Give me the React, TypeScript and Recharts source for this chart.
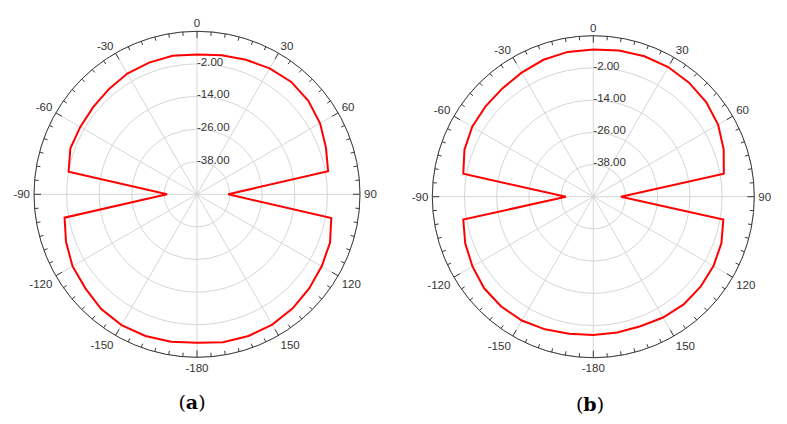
import React from 'react';
import { RadarChart, Radar, PolarGrid, PolarAngleAxis, PolarRadiusAxis } from 'recharts';

// Compass angles (0 = top, clockwise), every 10 degrees
const angles = [0, 10, 20, 30, 40, 50, 60, 70, 80, 90, 100, 110, 120, 130, 140, 150, 160, 170, 180,
  190, 200, 210, 220, 230, 240, 250, 260, 270, 280, 290, 300, 310, 320, 330, 340, 350];

// Gain pattern (dB) – panel (a)
const gainA = [1.5, 2.0, 2.7, 3.5, 4.0, 3.5, 2.3, 0.5, -1.0, -38.5, 0.2, 2.1, 3.0, 3.9, 4.8, 5.4, 5.5, 5.3, 4.6,
  5.1, 5.5, 5.6, 5.0, 3.7, 2.9, 1.3, -0.5, -39.0, -2.0, -0.4, -0.4, -0.1, 0.5, 1.3, 1.6, 1.8];

// Gain pattern (dB) – panel (b)
const gainB = [4.9, 5.3, 5.7, 5.8, 5.5, 4.9, 3.7, 1.7, -0.6, -39.7, -0.8, 0.8, 1.7, 2.2, 2.4, 2.0, 1.4, 1.4, 1.5,
  1.9, 2.6, 3.3, 3.4, 3.1, 2.0, 0.8, -0.8, -39.8, -0.8, 1.1, 2.1, 2.4, 2.7, 3.4, 4.3, 4.8];

const ringTicks = [-50, -38, -26, -14, -2, 10];
const ringLabelTicks = [-38, -26, -14, -2];
const spokeCompass = [0, 30, 60, 90, 120, 150, 180, 210, 240, 270, 300, 330];
const captions = ['a', 'b'];

const dataA = angles.map((a, i) => ({ angle: a, gain: gainA[i] }));
const dataB = angles.map((a, i) => ({ angle: a, gain: gainB[i] }));

const AXIS_COLOR = '#3a3a3a';
const GRID_COLOR = '#d6d6d6';
const LABEL_COLOR = '#333333';
const FONT = '"Liberation Sans", Arial, sans-serif';
const FS = 11.5;
const CAP = FS * 0.716;

const rad = (d: number) => (d * Math.PI) / 180;

function makeAngleTick(cx: number, cy: number, R: number) {
  return (props: any) => {
    const { payload } = props;
    const theta = Number(payload.coordinate);
    const v = Number(payload.value);
    const pt = (ang: number, r: number) => ({
      x: cx + r * Math.cos(-rad(ang)),
      y: cy + r * Math.sin(-rad(ang)),
    });
    const major = v % 30 === 0;
    const a1 = pt(theta, R);
    const a2 = pt(theta, R - (major ? 7 : 4));
    const half = theta - 5;
    const b1 = pt(half, R);
    const b2 = pt(half, R - 4);
    let label: any = null;
    if (major) {
      const txt = v <= 150 ? String(v) : String(v - 360);
      const c = Math.cos(rad(theta));
      const s = Math.sin(rad(theta));
      const p = pt(theta, R + 4);
      const anchor = c > 0.1 ? 'start' : c < -0.1 ? 'end' : 'middle';
      let y = p.y;
      if (s < -0.1) y = p.y + CAP + 2;
      else if (s <= 0.1) y = p.y + CAP / 2;
      label = (
        <text x={p.x} y={y} textAnchor={anchor} fontSize={FS} fontFamily={FONT} fill={LABEL_COLOR}>
          {txt}
        </text>
      );
    }
    return (
      <g>
        <line x1={a1.x} y1={a1.y} x2={a2.x} y2={a2.y} stroke={AXIS_COLOR} strokeWidth={1} />
        <line x1={b1.x} y1={b1.y} x2={b2.x} y2={b2.y} stroke={AXIS_COLOR} strokeWidth={1} />
        {label}
      </g>
    );
  };
}

const radiusTick = (props: any) => {
  const { x, y, payload } = props;
  const v = Number(payload.value);
  if (!ringLabelTicks.includes(v)) return <g />;
  return (
    <text x={x} y={y + 1.8} textAnchor="start" fontSize={FS} fontFamily={FONT} fill={LABEL_COLOR}>
      {v.toFixed(2)}
    </text>
  );
};

type PanelProps = {
  left: number;
  width: number;
  cx: number;
  cy: number;
  R: number;
  data: any[];
  caption: string;
  capX: number;
  capBaseline: number;
};

function Panel({ left, width, cx, cy, R, data, caption, capX, capBaseline }: PanelProps) {
  return (
    <div style={{ position: 'absolute', left, top: 0, width, height: 424 }}>
      <RadarChart
        width={width}
        height={424}
        data={data}
        cx={cx}
        cy={cy}
        outerRadius={R}
        innerRadius={0}
        margin={{ top: 0, right: 0, bottom: 0, left: 0 }}
      >
        <PolarGrid
          gridType="circle"
          stroke={GRID_COLOR}
          strokeWidth={1}
          polarAngles={spokeCompass.map((c) => 90 - c)}
        />
        <PolarAngleAxis
          dataKey="angle"
          type="category"
          axisLineType="circle"
          stroke={AXIS_COLOR}
          tickLine={false}
          tick={makeAngleTick(cx, cy, R)}
        />
        <PolarRadiusAxis
          angle={90}
          type="number"
          domain={[-50, 10]}
          ticks={ringTicks}
          allowDataOverflow
          axisLine={false}
          tickLine={false}
          tick={radiusTick}
        />
        <Radar
          dataKey="gain"
          stroke="#ff0000"
          strokeWidth={2}
          fill="none"
          fillOpacity={0}
          dot={false}
          isAnimationActive={false}
        />
      </RadarChart>
      <div
        style={{
          position: 'absolute',
          left: capX - 40,
          top: capBaseline - 16,
          width: 80,
          textAlign: 'center',
          fontFamily: '"DejaVu Serif", serif',
          fontSize: 19,
          lineHeight: '20px',
          color: '#000',
        }}
      >
        (<b>{caption}</b>)
      </div>
    </div>
  );
}

export default function App() {
  return (
    <div style={{ position: 'absolute', left: 0, top: 0, width: 787, height: 424, background: '#fff', overflow: 'hidden' }}>
      <Panel left={0} width={394} cx={197} cy={194.3} R={163} data={dataA} caption={captions[0]} capX={192} capBaseline={407.5} />
      <Panel left={394} width={393} cx={199.3} cy={196.7} R={161} data={dataB} caption={captions[1]} capX={196} capBaseline={409.5} />
    </div>
  );
}
